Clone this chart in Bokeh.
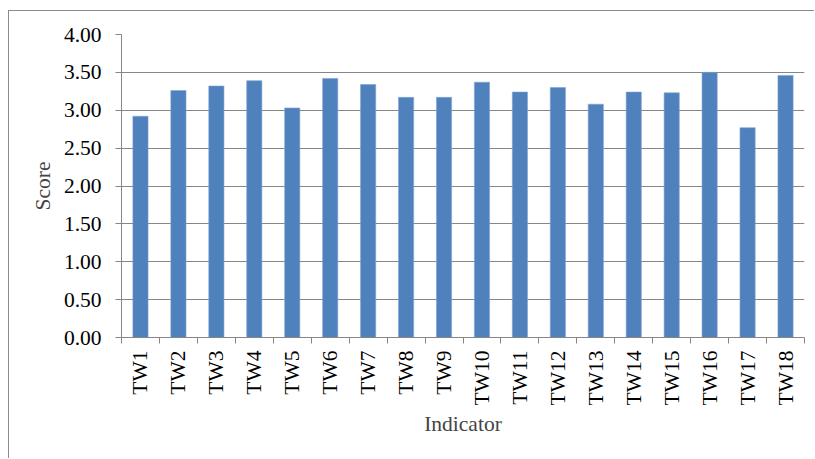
import math
from bokeh.plotting import figure
from bokeh.models import FixedTicker, NumeralTickFormatter, Range1d, ColumnDataSource
from bokeh.embed import file_html
from bokeh.resources import INLINE

categories = ["TW1", "TW2", "TW3", "TW4", "TW5", "TW6", "TW7", "TW8", "TW9",
              "TW10", "TW11", "TW12", "TW13", "TW14", "TW15", "TW16", "TW17", "TW18"]
scores = [2.92, 3.26, 3.32, 3.39, 3.03, 3.42, 3.34, 3.17, 3.17,
          3.37, 3.24, 3.30, 3.08, 3.24, 3.23, 3.50, 2.77, 3.46]
y_ticks = [0.0, 0.5, 1.0, 1.5, 2.0, 2.5, 3.0, 3.5, 4.0]

centers = [i + 0.5 for i in range(len(categories))]
src = ColumnDataSource(dict(x=centers, top=scores, cat=categories))

FONT = "Liberation Serif"
FSIZE = "21.5px"
GREY = "#868686"

p = figure(width=806, height=448, output_backend="svg", toolbar_location=None,
           x_range=Range1d(0, len(categories)), y_range=Range1d(0, 4.0),
           min_border_left=112, min_border_right=11, min_border_top=23, min_border_bottom=122)
p.styles = {"margin-left": "8px", "margin-top": "10px",
            "border-left": "1px solid #8c8c8c", "border-top": "1px solid #8c8c8c"}

p.vbar(x="x", top="top", width=0.4, source=src, fill_color="#4F81BD",
       line_color="#7fa3d0", line_width=0.6)

p.outline_line_color = None
p.xgrid.grid_line_color = None
p.ygrid.grid_line_color = GREY
p.ygrid.grid_line_width = 1.2
p.ygrid.ticker = FixedTicker(ticks=y_ticks)

# y axis
p.yaxis.ticker = FixedTicker(ticks=y_ticks)
p.yaxis.formatter = NumeralTickFormatter(format="0.00")
p.yaxis.axis_label = "Score"
p.yaxis.axis_label_text_font = FONT
p.yaxis.axis_label_text_font_style = "normal"
p.yaxis.axis_label_text_font_size = FSIZE
p.yaxis.axis_label_standoff = 6
p.yaxis.major_label_text_font = FONT
p.yaxis.major_label_text_font_size = FSIZE
p.yaxis.major_label_text_color = "black"
p.yaxis.major_label_standoff = 14
p.yaxis.axis_line_color = GREY
p.yaxis.major_tick_line_color = GREY
p.yaxis.major_tick_in = 0
p.yaxis.major_tick_out = 6
p.yaxis.minor_tick_line_color = None

# x axis: labels at centers, tick marks at boundaries
p.xaxis.ticker = FixedTicker(ticks=centers, minor_ticks=list(range(len(categories) + 1)))
p.xaxis.major_label_overrides = {c: cat for c, cat in zip(centers, categories)}
p.xaxis.major_label_orientation = math.pi / 2
p.xaxis.major_label_text_font = FONT
p.xaxis.major_label_text_font_size = FSIZE
p.xaxis.major_label_text_color = "black"
p.xaxis.major_label_standoff = 7
p.xaxis.axis_label = "Indicator"
p.xaxis.axis_label_text_font = FONT
p.xaxis.axis_label_text_font_style = "normal"
p.xaxis.axis_label_text_font_size = FSIZE
p.xaxis.axis_label_standoff = 4
p.xaxis.axis_line_color = GREY
p.xaxis.major_tick_line_color = None
p.xaxis.minor_tick_line_color = GREY
p.xaxis.minor_tick_in = 0
p.xaxis.minor_tick_out = 6

open("out.html", "w").write(file_html(p, INLINE))
